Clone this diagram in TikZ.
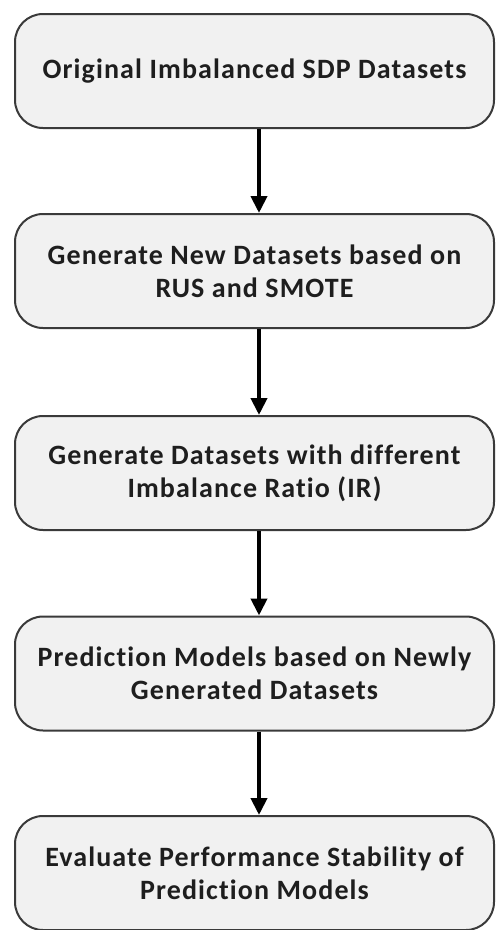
\documentclass[tikz,border=0pt]{standalone}
\usepackage{fontspec}
\setmainfont[Ligatures=NoCommon,LetterSpace=4]{Carlito}
\usetikzlibrary{arrows.meta}
\definecolor{boxfill}{HTML}{F1F1F1}
\definecolor{boxline}{HTML}{3A3A3A}
\definecolor{txt}{HTML}{1E1E1E}
\tikzset{
  stagebox/.style={draw=boxline, line width=2pt, fill=boxfill,
    rounded corners=28pt, minimum width=479pt, minimum height=114pt,
    inner sep=0pt, align=center, text=txt,
    font=\fontsize{28}{33}\selectfont\bfseries},
  flowarrow/.style={draw=black, line width=4pt,
    -{Triangle[length=17pt,width=16pt]}}
}
\begin{document}
\begin{tikzpicture}[x=1pt,y=-1pt]
\useasboundingbox (0,0) rectangle (497,930);
\node[stagebox] (b1) at (254.5,71) {Original Imbalanced SDP Datasets};
\node[stagebox] (b2) at (254.5,271) {Generate New Datasets based on\\RUS and SMOTE};
\node[stagebox] (b3) at (254.5,473) {Generate Datasets with different\\Imbalance Ratio (IR)};
\node[stagebox] (b4) at (254.5,673.5) {Prediction Models based on Newly\\Generated Datasets};
\node[stagebox] (b5) at (254.5,873) {Evaluate Performance Stability of\\Prediction Models};
\coordinate (ax) at (259,0);
\foreach \a/\b in {b1/b2,b2/b3,b3/b4,b4/b5}
  \draw[flowarrow] (\a.south -| ax) -- (\b.north -| ax);
\end{tikzpicture}
\end{document}
